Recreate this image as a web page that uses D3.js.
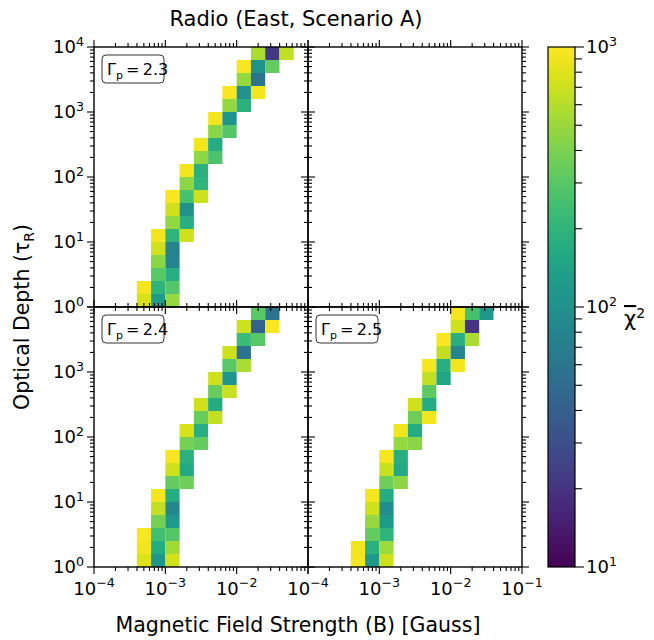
<!DOCTYPE html>
<html>
<head>
<meta charset="utf-8">
<script src="https://cdn.jsdelivr.net/npm/d3@7/dist/d3.min.js"></script>
<style>
  html, body { margin: 0; padding: 0; background: #fff; }
  svg { display: block; font-family: "DejaVu Sans", sans-serif; }
</style>
</head>
<body>
<svg id="chart" width="654" height="640"></svg>
<script>
// Grid bins are 0.2 dex wide in both B and tau.
const binDex = 0.2;

// Each cell: [log10 B bin start, log10 tau bin start, reduced chi-square]
const gamma23 = [
  [-1.8, 3.8, 560], [-1.6, 3.8, 22], [-1.4, 3.8, 650],
  [-2.0, 3.6, 950], [-1.8, 3.6, 105], [-1.6, 3.6, 330],
  [-2.0, 3.4, 480], [-1.8, 3.4, 58],
  [-2.2, 3.2, 950], [-2.0, 3.2, 100], [-1.8, 3.2, 930],
  [-2.2, 3.0, 470], [-2.0, 3.0, 190],
  [-2.4, 2.8, 920], [-2.2, 2.8, 110],
  [-2.4, 2.6, 450], [-2.2, 2.6, 290],
  [-2.6, 2.4, 920], [-2.4, 2.4, 170],
  [-2.6, 2.2, 460], [-2.4, 2.2, 270],
  [-2.8, 2.0, 920], [-2.6, 2.0, 190],
  [-2.8, 1.8, 450], [-2.6, 1.8, 200],
  [-3.0, 1.6, 950], [-2.8, 1.6, 260], [-2.6, 1.6, 700],
  [-3.0, 1.4, 720], [-2.8, 1.4, 100],
  [-3.0, 1.2, 470], [-2.8, 1.2, 180],
  [-3.2, 1.0, 920], [-3.0, 1.0, 200], [-2.8, 1.0, 720],
  [-3.2, 0.8, 700], [-3.0, 0.8, 78],
  [-3.2, 0.6, 450], [-3.0, 0.6, 80],
  [-3.2, 0.4, 300], [-3.0, 0.4, 180],
  [-3.4, 0.2, 930], [-3.2, 0.2, 200], [-3.0, 0.2, 290],
  [-3.4, 0.0, 750], [-3.2, 0.0, 125], [-3.0, 0.0, 480]
];

const gamma24 = [
  [-1.8, 3.8, 310], [-1.6, 3.8, 58],
  [-2.0, 3.6, 700], [-1.8, 3.6, 42], [-1.6, 3.6, 950],
  [-2.0, 3.4, 230], [-1.8, 3.4, 300],
  [-2.2, 3.2, 700], [-2.0, 3.2, 58],
  [-2.2, 3.0, 300], [-2.0, 3.0, 560],
  [-2.4, 2.8, 720], [-2.2, 2.8, 110],
  [-2.4, 2.6, 340], [-2.2, 2.6, 680],
  [-2.6, 2.4, 720], [-2.4, 2.4, 170],
  [-2.6, 2.2, 340], [-2.4, 2.2, 650],
  [-2.8, 2.0, 750], [-2.6, 2.0, 180],
  [-2.8, 1.8, 380], [-2.6, 1.8, 330],
  [-3.0, 1.6, 950], [-2.8, 1.6, 190],
  [-3.0, 1.4, 700], [-2.8, 1.4, 160],
  [-3.0, 1.2, 330], [-2.8, 1.2, 360],
  [-3.2, 1.0, 930], [-3.0, 1.0, 170],
  [-3.2, 0.8, 650], [-3.0, 0.8, 85],
  [-3.2, 0.6, 380], [-3.0, 0.6, 120],
  [-3.4, 0.4, 960], [-3.2, 0.4, 250], [-3.0, 0.4, 290],
  [-3.4, 0.2, 900], [-3.2, 0.2, 170], [-3.0, 0.2, 520],
  [-3.4, 0.0, 780], [-3.2, 0.0, 110], [-3.0, 0.0, 720]
];

const gamma25 = [
  [-2.0, 3.8, 940], [-1.8, 3.8, 260], [-1.6, 3.8, 115],
  [-2.0, 3.6, 700], [-1.8, 3.6, 20],
  [-2.2, 3.4, 950], [-2.0, 3.4, 180], [-1.8, 3.4, 560],
  [-2.2, 3.2, 650], [-2.0, 3.2, 82],
  [-2.4, 3.0, 940], [-2.2, 3.0, 180], [-2.0, 3.0, 920],
  [-2.4, 2.8, 660], [-2.2, 2.8, 150],
  [-2.4, 2.6, 320],
  [-2.6, 2.4, 720], [-2.4, 2.4, 170],
  [-2.6, 2.2, 360], [-2.4, 2.2, 920],
  [-2.8, 2.0, 900], [-2.6, 2.0, 170],
  [-2.8, 1.8, 480], [-2.6, 1.8, 450],
  [-3.0, 1.6, 940], [-2.8, 1.6, 180],
  [-3.0, 1.4, 690], [-2.8, 1.4, 160],
  [-3.0, 1.2, 360], [-2.8, 1.2, 460],
  [-3.2, 1.0, 920], [-3.0, 1.0, 170],
  [-3.2, 0.8, 700], [-3.0, 0.8, 95],
  [-3.2, 0.6, 480], [-3.0, 0.6, 120],
  [-3.2, 0.4, 330], [-3.0, 0.4, 200],
  [-3.4, 0.2, 930], [-3.2, 0.2, 190], [-3.0, 0.2, 500],
  [-3.4, 0.0, 920], [-3.2, 0.0, 120], [-3.0, 0.0, 700]
];

const gammaLabels = ["2.3", "2.4", "2.5"];
const bDomain = [1e-4, 1e-1];
const tauDomain = [1, 1e4];
const chiDomain = [10, 1000];
const titleText = "Radio (East, Scenario A)";
const xLabelText = "Magnetic Field Strength (B) [Gauss]";

// ---- layout ----
const svg = d3.select("#chart");
const gridLeft = 94, gridTop = 47, pw = 214, ph = 260;
const majorLen = 7, minorLen = 4;
const tickFont = 18;

const color = d3.scaleSequentialLog(d3.interpolateViridis).domain(chiDomain).clamp(true);

const panels = [
  { row: 0, col: 0, cells: gamma23, gamma: gammaLabels[0], yLabels: [0, 1, 2, 3, 4], xLabels: [] },
  { row: 0, col: 1, cells: null },
  { row: 1, col: 0, cells: gamma24, gamma: gammaLabels[1], yLabels: [0, 1, 2, 3], xLabels: [-4, -3, -2] },
  { row: 1, col: 1, cells: gamma25, gamma: gammaLabels[2], yLabels: [], xLabels: [-4, -3, -2, -1] }
];

function isMajor(v) {
  const e = Math.log10(v);
  return Math.abs(e - Math.round(e)) < 1e-9;
}

function powLabel(sel, exp, fs) {
  sel.append("tspan").text("10");
  sel.append("tspan")
    .attr("dy", -fs * 0.42)
    .attr("font-size", fs * 0.7)
    .text(exp < 0 ? "\u2212" + (-exp) : String(exp));
}

const cellLayer = svg.append("g");
const axisLayer = svg.append("g");

panels.forEach(p => {
  const x0 = gridLeft + p.col * pw, y0 = gridTop + p.row * ph;
  const x = d3.scaleLog().domain(bDomain).range([x0, x0 + pw]);
  const y = d3.scaleLog().domain(tauDomain).range([y0 + ph, y0]);

  if (p.cells) {
    cellLayer.append("g").selectAll("rect")
      .data(p.cells)
      .join("rect")
      .attr("x", d => x(Math.pow(10, d[0])))
      .attr("y", d => y(Math.pow(10, d[1] + binDex)))
      .attr("width", d => x(Math.pow(10, d[0] + binDex)) - x(Math.pow(10, d[0])))
      .attr("height", d => y(Math.pow(10, d[1])) - y(Math.pow(10, d[1] + binDex)))
      .attr("fill", d => color(d[2]));
  }

  const g = axisLayer.append("g");
  g.append("rect")
    .attr("x", x0).attr("y", y0).attr("width", pw).attr("height", ph)
    .attr("fill", "none").attr("stroke", "#000").attr("stroke-width", 1.4);

  const xt = x.ticks().filter(v => v >= bDomain[0] && v <= bDomain[1]);
  const yt = y.ticks().filter(v => v >= tauDomain[0] && v <= tauDomain[1]);

  g.selectAll(".xb").data(xt).join("line")
    .attr("x1", d => x(d)).attr("x2", d => x(d))
    .attr("y1", y0 + ph).attr("y2", d => y0 + ph + (isMajor(d) ? majorLen : minorLen))
    .attr("stroke", "#000").attr("stroke-width", 1.1);
  g.selectAll(".xt").data(xt).join("line")
    .attr("x1", d => x(d)).attr("x2", d => x(d))
    .attr("y1", y0).attr("y2", d => y0 - (isMajor(d) ? majorLen : minorLen))
    .attr("stroke", "#000").attr("stroke-width", 1.1);
  g.selectAll(".yl").data(yt).join("line")
    .attr("y1", d => y(d)).attr("y2", d => y(d))
    .attr("x1", x0).attr("x2", d => x0 - (isMajor(d) ? majorLen : minorLen))
    .attr("stroke", "#000").attr("stroke-width", 1.1);
  g.selectAll(".yr").data(yt).join("line")
    .attr("y1", d => y(d)).attr("y2", d => y(d))
    .attr("x1", x0 + pw).attr("x2", d => x0 + pw + (isMajor(d) ? majorLen : minorLen))
    .attr("stroke", "#000").attr("stroke-width", 1.1);

  (p.yLabels || []).forEach(e => {
    const t = g.append("text")
      .attr("x", x0 - majorLen - 3)
      .attr("y", y(Math.pow(10, e)) + tickFont * 0.36)
      .attr("text-anchor", "end")
      .attr("font-size", tickFont);
    powLabel(t, e, tickFont);
  });
  (p.xLabels || []).forEach(e => {
    const t = g.append("text")
      .attr("x", x(Math.pow(10, e)))
      .attr("y", y0 + ph + majorLen + 21)
      .attr("text-anchor", "middle")
      .attr("font-size", tickFont);
    powLabel(t, e, tickFont);
  });

  if (p.gamma) {
    const bx = x0 + 8, by = y0 + 8;
    g.append("rect")
      .attr("x", bx).attr("y", by).attr("width", 62).attr("height", 28)
      .attr("rx", 4).attr("ry", 4)
      .attr("fill", "#fff").attr("stroke", "#333").attr("stroke-width", 1);
    const t = g.append("text")
      .attr("x", bx + 5).attr("y", by + 20)
      .attr("font-size", 16);
    t.append("tspan").text("\u0393");
    t.append("tspan").attr("dy", 4).attr("font-size", 11).text("p");
    t.append("tspan").attr("dy", -4).text("\u2009=\u2009" + p.gamma);
  }
});

// ---- colour bar ----
const cbX = 548, cbW = 27, cbY = gridTop, cbH = 2 * ph;
const cbScale = d3.scaleLog().domain(chiDomain).range([cbY + cbH, cbY]);
const defs = svg.append("defs");
const grad = defs.append("linearGradient").attr("id", "cbgrad")
  .attr("x1", 0).attr("y1", 1).attr("x2", 0).attr("y2", 0);
d3.range(0, 1.0001, 0.05).forEach(t => {
  grad.append("stop").attr("offset", t).attr("stop-color", d3.interpolateViridis(t));
});
svg.append("rect").attr("x", cbX).attr("y", cbY).attr("width", cbW).attr("height", cbH)
  .attr("fill", "url(#cbgrad)").attr("stroke", "#000").attr("stroke-width", 1.2);
const cbTicks = cbScale.ticks();
svg.append("g").selectAll("line").data(cbTicks).join("line")
  .attr("x1", cbX + cbW).attr("x2", d => cbX + cbW + (isMajor(d) ? 9 : 7))
  .attr("y1", d => cbScale(d)).attr("y2", d => cbScale(d))
  .attr("stroke", "#000").attr("stroke-width", 1.1);
cbTicks.filter(isMajor).forEach(v => {
  const t = svg.append("text")
    .attr("x", cbX + cbW + 11)
    .attr("y", cbScale(v) + tickFont * 0.36)
    .attr("font-size", tickFont);
  powLabel(t, Math.round(Math.log10(v)), tickFont);
});
const chiLab = svg.append("text").attr("x", 624).attr("y", 326).attr("font-size", 21);
chiLab.append("tspan").attr("text-decoration", "overline").text("\u03c7");
chiLab.append("tspan").attr("dy", -8).attr("font-size", 14).text("2");

// ---- titles ----
svg.append("text").attr("x", 296).attr("y", 26).attr("text-anchor", "middle")
  .attr("font-size", 21).text(titleText);
svg.append("text").attr("x", 298).attr("y", 632).attr("text-anchor", "middle")
  .attr("font-size", 20.5).text(xLabelText);
const yl = svg.append("text")
  .attr("transform", "translate(29,317) rotate(-90)")
  .attr("text-anchor", "middle").attr("font-size", 20.5);
yl.append("tspan").text("Optical Depth (\u03c4");
yl.append("tspan").attr("dy", 5).attr("font-size", 14).text("R");
yl.append("tspan").attr("dy", -5).text(")");
</script>
</body>
</html>
